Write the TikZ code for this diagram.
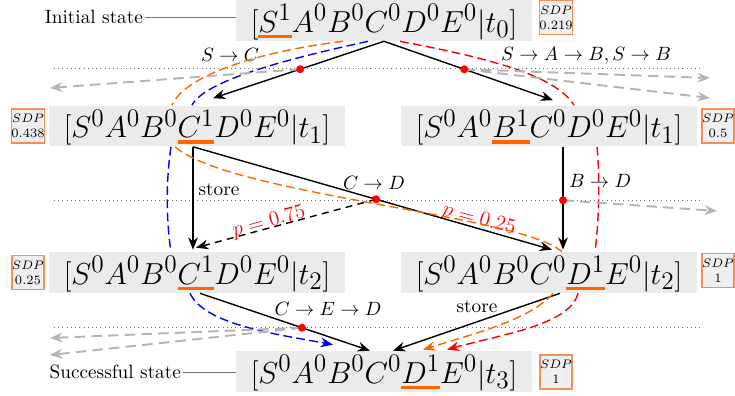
\documentclass[tikz,border=0pt,11pt]{standalone}
\usepackage{tikz}
\usepackage{xcolor}
\definecolor{vizState}{HTML}{EBEBEB}
\definecolor{vizMark}{HTML}{FF6600}
\definecolor{vizSdpEdge}{HTML}{F0905A}
\definecolor{vizSdpFill}{HTML}{EFEFEF}
\definecolor{vizGhost}{HTML}{B4B4B4}
\definecolor{vizGuide}{HTML}{707070}
\definecolor{vizPathA}{HTML}{0000FF}
\definecolor{vizPathB}{HTML}{FF6600}
\definecolor{vizPathC}{HTML}{FF0000}
\usetikzlibrary{arrows.meta}

\newcommand{\markVar}[1]{\mathord{\setbox0=\hbox{$#1$}\rlap{\color{vizMark}\rule[-3.6pt]{\wd0}{2pt}}\box0}}

\tikzset{
  stateBox/.style={fill=vizState, draw=none, minimum width=5.92cm, text height=18.2pt, text depth=5.1pt, inner sep=0pt, font=\fontsize{19}{22}\selectfont},
  sdpBox/.style={fill=vizSdpFill, draw=vizSdpEdge, line width=0.6pt, minimum width=0.64cm, minimum height=0.68cm, inner sep=0pt, align=center, font=\fontsize{7.3}{8.5}\selectfont},
  sideLabel/.style={inner sep=1pt, anchor=east},
  ruleLabel/.style={inner sep=1pt},
  probLabel/.style={text=red, font=\large, inner sep=1pt},
  guideLine/.style={draw=vizGuide, dotted, line width=0.4pt},
  stepArrow/.style={draw=black, line width=0.8pt, -{Stealth[length=7pt,width=5.5pt]}},
  ghostArrow/.style={draw=vizGhost, line width=1.1pt, dash pattern=on 6pt off 3.5pt, -{Stealth[length=7pt,width=5.5pt]}},
  pathLine/.style={line width=0.8pt, dash pattern=on 5pt off 2.5pt},
  pathArrow/.style={pathLine, -{Stealth[length=7pt,width=5.5pt]}},
  redDot/.style={circle, fill=red, inner sep=0pt, minimum size=0.16cm}
}

\begin{document}
\begin{tikzpicture}
  \useasboundingbox (0cm,0cm) rectangle (14.7cm,-7.92cm);
  \draw[guideLine] (1.08cm,-1.37cm) -- (14.06cm,-1.37cm);
  \draw[guideLine] (1.08cm,-4.01cm) -- (14.06cm,-4.01cm);
  \draw[guideLine] (1.08cm,-6.54cm) -- (14.06cm,-6.54cm);

  \node[stateBox] (T0) at (7.68cm,-0.41cm) {$[\markVar{S^1}A^0B^0C^0D^0E^0|t_0]$};
  \node[stateBox] (T1L) at (3.94cm,-2.52cm) {$[S^0A^0B^0\markVar{C^1}D^0E^0|t_1]$};
  \node[stateBox] (T1R) at (10.98cm,-2.52cm) {$[S^0A^0\markVar{B^1}C^0D^0E^0|t_1]$};
  \node[stateBox] (T2L) at (3.94cm,-5.45cm) {$[S^0A^0B^0\markVar{C^1}D^0E^0|t_2]$};
  \node[stateBox] (T2R) at (10.98cm,-5.45cm) {$[S^0A^0B^0C^0\markVar{D^1}E^0|t_2]$};
  \node[stateBox] (T3) at (7.68cm,-7.43cm) {$[S^0A^0B^0C^0\markVar{D^1}E^0|t_3]$};

  \node[sdpBox] (sdp0) at (11.12cm,-0.35cm) {$SDP$\\0.219};
  \node[sdpBox] (sdp1L) at (0.56cm,-2.52cm) {$SDP$\\0.438};
  \node[sdpBox] (sdp1R) at (14.36cm,-2.52cm) {$SDP$\\0.5};
  \node[sdpBox] (sdp2L) at (0.56cm,-5.45cm) {$SDP$\\0.25};
  \node[sdpBox] (sdp2R) at (14.36cm,-5.41cm) {$SDP$\\1};
  \node[sdpBox] (sdp3) at (11.12cm,-7.44cm) {$SDP$\\1};

  \node[sideLabel] (init) at (2.9cm,-0.34cm) {Initial state};
  \node[sideLabel] (goal) at (3.66cm,-7.44cm) {Successful state};
  \draw[vizGuide, line width=0.5pt] (init.east) -- (init.east -| T0.west);
  \draw[vizGuide, line width=0.5pt] (goal.east) -- (goal.east -| T3.west);

  \node[ruleLabel] (rSC) at (4.6cm,-1.1cm) {$S\rightarrow C$};
  \node[ruleLabel] (rSAB) at (11.72cm,-1.12cm) {$S\rightarrow A\rightarrow B, S\rightarrow B$};
  \node[ruleLabel] (rStoreL) at (4.38cm,-3.8cm) {store};
  \node[ruleLabel] (rCD) at (7.48cm,-3.65cm) {$C\rightarrow D$};
  \node[ruleLabel] (rBD) at (12.0cm,-3.62cm) {$B\rightarrow D$};
  \node[ruleLabel] (rCED) at (6.56cm,-6.18cm) {$C\rightarrow E\rightarrow D$};
  \node[ruleLabel] (rStoreR) at (9.54cm,-6.14cm) {store};
  \node[probLabel, rotate=15] (pLeft) at (5.38cm,-4.44cm) {$p=0.75$};
  \node[probLabel, rotate=-15] (pRight) at (9.58cm,-4.4cm) {$p=0.25$};

  \draw[stepArrow] (T0.south) -- coordinate[pos=0.49] (cut1) ([xshift=0.32cm,yshift=0.14cm]T1L.north);
  \draw[stepArrow] (T0.south) -- coordinate[pos=0.475] (cut2) ([xshift=0.08cm,yshift=0.1cm]T1R.north);
  \draw[stepArrow] ([xshift=-0.08cm]T1L.south) -- ([xshift=-0.08cm,yshift=0.04cm]T2L.north);
  \draw[stepArrow] ([xshift=-0.08cm]T1L.south) -- coordinate[pos=0.51] (cut3) ([xshift=0.06cm,yshift=0.04cm]T2R.north);
  \draw[stepArrow, dash pattern=on 4pt off 3pt] (cut3) -- ([xshift=-0.02cm,yshift=0.08cm]T2L.north);
  \draw[stepArrow] ([xshift=0.28cm]T1R.south) -- coordinate[pos=0.52] (cut4) ([xshift=0.28cm,yshift=0.04cm]T2R.north);
  \draw[stepArrow] ([xshift=0.06cm]T2L.south) -- coordinate[pos=0.6] (cut5) ([xshift=-0.28cm]T3.north);
  \draw[stepArrow] ([xshift=0.22cm]T2R.south) -- ([xshift=0.18cm]T3.north);

  \draw[pathLine, vizPathA] ([xshift=-0.32cm]T0.south) .. controls +(-1.56cm,-0.34cm) and +(0.26cm,0.5cm) .. ([xshift=-0.1cm]T1L.north)
    ([xshift=-0.52cm]T1L.south) .. controls +(-0.1cm,-0.66cm) and +(-0.1cm,0.64cm) .. ([xshift=-0.52cm]T2L.north);
  \draw[pathArrow, vizPathA] ([xshift=-0.14cm]T2L.south) .. controls +(0.3cm,-0.64cm) and +(-1.06cm,0.2cm) .. ([xshift=-1.02cm,yshift=0.12cm]T3.north);
  \draw[pathLine, vizPathB] ([xshift=-0.82cm]T0.south) .. controls +(-1.66cm,-0.2cm) and +(0.26cm,0.6cm) .. ([xshift=-0.5cm]T1L.north)
    ([xshift=-0.44cm]T1L.south) .. controls +(1.1cm,-0.96cm) and +(-0.84cm,0.74cm) .. ([xshift=0.26cm]T2R.north);
  \draw[pathArrow, vizPathB] ([xshift=0.08cm]T2R.south) .. controls +(-0.46cm,-0.54cm) and +(0.94cm,0.3cm) .. ([xshift=0.78cm,yshift=0.02cm]T3.north);
  \draw[pathLine, vizPathC] ([xshift=0.32cm]T0.south) .. controls +(1.8cm,-0.34cm) and +(-0.38cm,0.6cm) .. ([xshift=0.5cm]T1R.north)
    ([xshift=0.96cm]T1R.south) .. controls +(0.06cm,-0.66cm) and +(0.08cm,0.64cm) .. ([xshift=0.92cm]T2R.north);
  \draw[pathArrow, vizPathC] ([xshift=0.58cm]T2R.south) .. controls +(-0.16cm,-0.64cm) and +(1.06cm,0.3cm) .. ([xshift=1.26cm,yshift=0.02cm]T3.north);

  \coordinate (ghostW1) at (1.0cm,-1.76cm);
  \coordinate (ghostE1) at (14.2cm,-1.56cm);
  \coordinate (ghostE2) at (14.2cm,-1.96cm);
  \coordinate (ghostE3) at (14.34cm,-4.22cm);
  \coordinate (ghostW2) at (1.0cm,-6.76cm);
  \coordinate (ghostW3) at (1.0cm,-7.1cm);
  \draw[ghostArrow] (cut1) -- (ghostW1);
  \draw[ghostArrow] (cut2) -- (ghostE1);
  \draw[ghostArrow] (cut2) -- (ghostE2);
  \draw[ghostArrow] (cut4) -- (ghostE3);
  \draw[ghostArrow] (cut5) -- (ghostW2);
  \draw[ghostArrow] (cut5) -- (ghostW3);

  \node[redDot] (dot1) at (cut1) {};
  \node[redDot] (dot2) at (cut2) {};
  \node[redDot] (dot3) at (cut3) {};
  \node[redDot] (dot4) at (cut4) {};
  \node[redDot] (dot5) at (cut5) {};
\end{tikzpicture}
\end{document}
